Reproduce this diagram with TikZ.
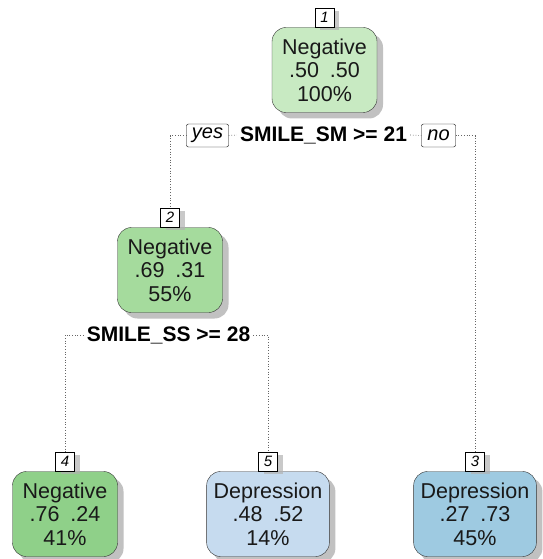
\documentclass[tikz,border=0pt]{standalone}
\usepackage{fontspec}
\setmainfont{Liberation Sans}
\usetikzlibrary{shadows}

\definecolor{negA}{RGB}{200,234,194}
\definecolor{negB}{RGB}{165,219,157}
\definecolor{negC}{RGB}{143,208,137}
\definecolor{depA}{RGB}{198,219,239}
\definecolor{depB}{RGB}{158,202,225}

\tikzset{
  leaf/.style={draw=black!80, rounded corners=14pt, align=center, text=black!90,
    minimum width=105pt, minimum height=85pt, inner xsep=7pt,
    font=\fontsize{21.5}{23.5}\selectfont,
    drop shadow={shadow xshift=6pt, shadow yshift=-6pt, fill=black!35, opacity=0.7}},
  numbox/.style={draw=black, fill=white, inner sep=1.5pt, minimum width=19pt,
    minimum height=19pt, font=\fontsize{15}{15}\selectfont\itshape,
    drop shadow={shadow xshift=5pt, shadow yshift=-3pt, fill=black!30, opacity=0.7}},
  split/.style={font=\fontsize{21}{21}\selectfont\bfseries, inner sep=3pt},
  yesno/.style={draw=black, fill=white, rounded corners=2pt, inner xsep=4pt,
    minimum height=23pt, minimum width=34pt, font=\fontsize{20}{20}\selectfont\itshape},
  branch/.style={draw=black!60, dotted, line width=0.7pt}
}

\begin{document}
\begin{tikzpicture}[x=1pt, y=-1pt]
\useasboundingbox (0,0) rectangle (542,559);

\coordinate (N1) at (324.5, 70);
\coordinate (N2) at (170, 270);
\coordinate (N4) at (65, 514);
\coordinate (N5) at (268, 514);
\coordinate (N3) at (475, 514);

% split labels
\node[split] (s1) at (323.5, 135) {SMILE\_SM >= 21};
\node[yesno, minimum width=42pt] (yes) at (207.5, 135.5) {yes};
\node[yesno] (no) at (438.5, 135.5) {no};
\node[split] (s2) at (168.5, 335) {SMILE\_SS >= 28};

% boxes
\node[leaf, fill=negA] (n1) at (N1) {Negative\\.50\enspace.50\\100\%};
\node[leaf, fill=negB] (n2) at (N2) {Negative\\.69\enspace.31\\55\%};
\node[leaf, fill=negC] (n4) at (N4) {Negative\\.76\enspace.24\\41\%};
\node[leaf, fill=depA] (n5) at (N5) {Depression\\.48\enspace.52\\14\%};
\node[leaf, fill=depB] (n3) at (N3) {Depression\\.27\enspace.73\\45\%};

\node[numbox, anchor=south] (l1) at (n1.north) {1};
\node[numbox, anchor=south] (l2) at (n2.north) {2};
\node[numbox, anchor=south] (l4) at (n4.north) {4};
\node[numbox, anchor=south] (l5) at (n5.north) {5};
\node[numbox, anchor=south] (l3) at (n3.north) {3};

% branches
\draw[branch] (yes.west) -| (l2.north);
\draw[branch] (no.east) -| (l3.north);
\draw[branch] (yes.east) -- (s1.west);
\draw[branch] (s1.east) -- (no.west);
\draw[branch] (s2.west) -| (l4.north);
\draw[branch] (s2.east) -| (l5.north);

\end{tikzpicture}
\end{document}
